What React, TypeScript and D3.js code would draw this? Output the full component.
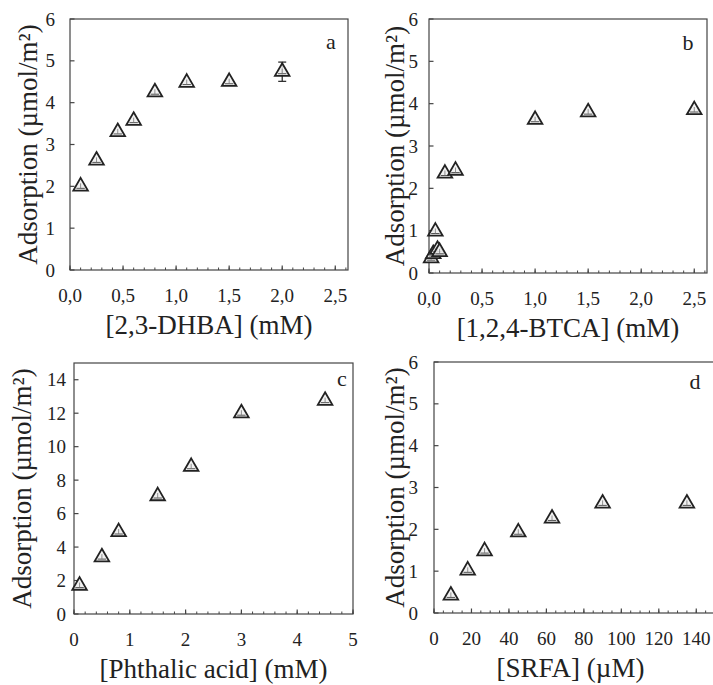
import React, { useEffect, useRef } from 'react';
import * as d3 from 'd3';

// panel a: 2,3-DHBA
const dhbaConc = [0.1, 0.25, 0.45, 0.6, 0.8, 1.1, 1.5, 2.0];
const dhbaAds = [2.0, 2.62, 3.3, 3.57, 4.25, 4.48, 4.5, 4.74];
const dhbaErr = [0, 0, 0, 0, 0, 0, 0, 0.23];

// panel b: 1,2,4-BTCA
const btcaConc = [0.02, 0.04, 0.06, 0.08, 0.1, 0.15, 0.25, 1.0, 1.5, 2.5];
const btcaAds = [0.35, 0.45, 0.98, 0.55, 0.5, 2.35, 2.42, 3.62, 3.8, 3.85];

// panel c: phthalic acid
const phthalicConc = [0.1, 0.5, 0.8, 1.5, 2.1, 3.0, 4.5];
const phthalicAds = [1.7, 3.4, 4.9, 7.05, 8.8, 12.0, 12.75];

// panel d: SRFA
const srfaConc = [9, 18, 27, 45, 63, 90, 135];
const srfaAds = [0.42, 1.02, 1.48, 1.93, 2.26, 2.62, 2.62];

const mMTicks = [0, 0.5, 1.0, 1.5, 2.0, 2.5];
const phthalicTicks = [0, 1, 2, 3, 4, 5];
const srfaTicks = [0, 20, 40, 60, 80, 100, 120, 140];
const ads6Ticks = [0, 1, 2, 3, 4, 5, 6];
const ads14Ticks = [0, 2, 4, 6, 8, 10, 12, 14];

const commaFmt = d3.formatLocale({ decimal: ',', thousands: '.', grouping: [3], currency: ['', ''] }).format('.1f');
const intFmt = d3.format('d');

const FONT = 'Liberation Serif, Tinos, Times New Roman, DejaVu Serif, serif';
const INK = '#222';

const panels = [
  {
    letter: 'a', lx: 331, ly: 49,
    left: 70, top: 19, right: 348, bottom: 270,
    xDomain: [0, 2.62], yDomain: [0, 6], xTicks: mMTicks, yTicks: ads6Ticks, minorStep: 0.1,
    xFmt: commaFmt, yPad: 15, yTitleX: 37,
    xTitle: '[2,3-DHBA] (mM)', xs: dhbaConc, ys: dhbaAds, err: dhbaErr,
  },
  {
    letter: 'b', lx: 688, ly: 50,
    left: 429, top: 19, right: 707, bottom: 273,
    xDomain: [0, 2.62], yDomain: [0, 6], xTicks: mMTicks, yTicks: ads6Ticks, minorStep: 0.1,
    xFmt: commaFmt, yPad: 11, yTitleX: 404,
    xTitle: '[1,2,4-BTCA] (mM)', xs: btcaConc, ys: btcaAds, err: null,
  },
  {
    letter: 'c', lx: 342, ly: 386,
    left: 74, top: 363, right: 353, bottom: 614,
    xDomain: [0, 5], yDomain: [0, 15], xTicks: phthalicTicks, yTicks: ads14Ticks, minorStep: 0.2,
    xFmt: intFmt, yPad: 8, yTitleX: 31,
    xTitle: '[Phthalic acid] (mM)', xs: phthalicConc, ys: phthalicAds, err: null,
  },
  {
    letter: 'd', lx: 695, ly: 389,
    left: 434, top: 362, right: 715, bottom: 613,
    xDomain: [0, 150], yDomain: [0, 6], xTicks: srfaTicks, yTicks: ads6Ticks, minorStep: 5,
    xFmt: intFmt, yPad: 16, yTitleX: 404,
    xTitle: '[SRFA] (\u00b5M)', xs: srfaConc, ys: srfaAds, err: null,
  },
];

const App = () => {
  const svgRef = useRef(null);

  useEffect(() => {
    const svg = d3.select(svgRef.current);
    svg.selectAll('*').remove();

    const tri = d3.symbol().type(d3.symbolTriangle).size(92)();

    panels.forEach(p => {
      const x = d3.scaleLinear().domain(p.xDomain).range([p.left, p.right]);
      const y = d3.scaleLinear().domain(p.yDomain).range([p.bottom, p.top]);
      const g = svg.append('g');

      // frame
      g.append('rect')
        .attr('x', p.left).attr('y', p.top)
        .attr('width', p.right - p.left).attr('height', p.bottom - p.top)
        .attr('fill', 'none').attr('stroke', '#444').attr('stroke-width', 1.2);

      // minor x ticks
      const minor = d3.range(p.xDomain[0], p.xDomain[1] + 1e-9, p.minorStep);
      g.selectAll('.minor').data(minor).enter().append('line')
        .attr('x1', d => x(d)).attr('x2', d => x(d))
        .attr('y1', p.bottom).attr('y2', p.bottom - 2.5)
        .attr('stroke', '#444').attr('stroke-width', 1);

      // major x ticks
      g.selectAll('.xmajor').data(p.xTicks).enter().append('line')
        .attr('x1', d => x(d)).attr('x2', d => x(d))
        .attr('y1', p.bottom).attr('y2', p.bottom - 4.5)
        .attr('stroke', '#444').attr('stroke-width', 1.2);

      g.selectAll('.xlab').data(p.xTicks).enter().append('text')
        .attr('x', d => x(d)).attr('y', p.bottom + 32)
        .attr('text-anchor', 'middle')
        .style('font-family', FONT).attr('font-size', 19).attr('fill', INK)
        .text(d => p.xFmt(d));

      // y ticks
      g.selectAll('.ymajor').data(p.yTicks).enter().append('line')
        .attr('x1', p.left).attr('x2', p.left + 4.5)
        .attr('y1', d => y(d)).attr('y2', d => y(d))
        .attr('stroke', '#444').attr('stroke-width', 1.2);

      g.selectAll('.ylab').data(p.yTicks).enter().append('text')
        .attr('x', p.left - p.yPad).attr('y', d => y(d))
        .attr('dy', '0.35em')
        .attr('text-anchor', 'end')
        .style('font-family', FONT).attr('font-size', 19).attr('fill', INK)
        .text(d => intFmt(d));

      // axis titles
      g.append('text')
        .attr('x', (p.left + Math.min(p.right, 707)) / 2).attr('y', p.bottom + 64)
        .attr('text-anchor', 'middle')
        .style('font-family', FONT).attr('font-size', 27).attr('fill', INK)
        .text(p.xTitle);

      g.append('text')
        .attr('transform', `translate(${p.yTitleX},${(p.top + p.bottom) / 2}) rotate(-90)`)
        .attr('text-anchor', 'middle')
        .style('font-family', FONT).attr('font-size', 27).attr('fill', INK)
        .text('Adsorption (\u00b5mol/m\u00b2)');

      // panel letter
      g.append('text')
        .attr('x', p.lx).attr('y', p.ly)
        .attr('text-anchor', 'middle')
        .style('font-family', FONT).attr('font-size', 22).attr('fill', INK)
        .text(p.letter);

      const pts = p.xs.map((v, i) => ({ cx: v, cy: p.ys[i], e: p.err ? p.err[i] : 0 }));

      // error bars
      const withErr = pts.filter(d => d.e > 0);
      withErr.forEach(d => {
        const px = x(d.cx);
        const y0 = y(d.cy - d.e);
        const y1 = y(d.cy + d.e);
        g.append('line').attr('x1', px).attr('x2', px).attr('y1', y0).attr('y2', y1)
          .attr('stroke', INK).attr('stroke-width', 1.2);
        [y0, y1].forEach(yy => {
          g.append('line').attr('x1', px - 4).attr('x2', px + 4).attr('y1', yy).attr('y2', yy)
            .attr('stroke', INK).attr('stroke-width', 1.2);
        });
      });

      // triangle markers
      const mk = g.selectAll('.mk').data(pts).enter().append('g')
        .attr('transform', d => `translate(${x(d.cx)},${y(d.cy)})`);
      mk.append('path').attr('d', tri)
        .attr('fill', '#efefef').attr('fill-opacity', 0.85)
        .attr('stroke', INK).attr('stroke-width', 1.8).attr('stroke-linejoin', 'miter');
      mk.append('line')
        .attr('x1', -4.2).attr('x2', 4.2).attr('y1', 2).attr('y2', 2)
        .attr('stroke', '#555').attr('stroke-width', 1);
      mk.append('line')
        .attr('x1', 0).attr('x2', 0).attr('y1', -3).attr('y2', 2)
        .attr('stroke', '#777').attr('stroke-width', 0.8);
    });
  }, []);

  return (
    <svg
      ref={svgRef}
      width={713}
      height={685}
      style={{ position: 'absolute', left: 0, top: 0, background: '#fff', display: 'block' }}
    />
  );
};

export default App;
